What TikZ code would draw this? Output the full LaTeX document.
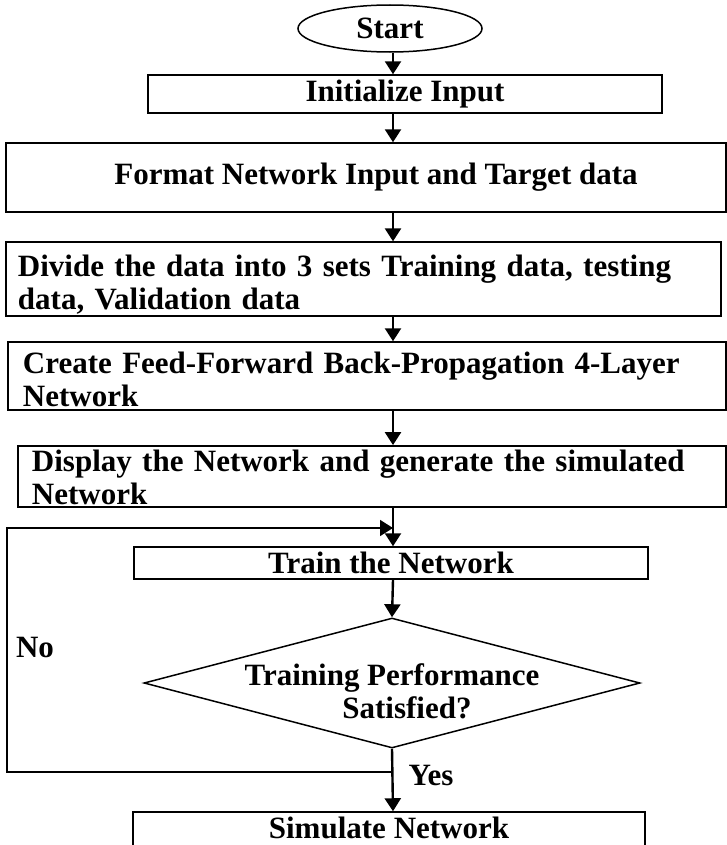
\documentclass[tikz,border=0pt]{standalone}
\usepackage{fontspec}
\setmainfont{Liberation Serif}
\usepackage{tikz}
\usetikzlibrary{arrows.meta,shapes.geometric}

\begin{document}
\begin{tikzpicture}[x=1bp,y=1bp,font=\fontsize{31bp}{33bp}\selectfont\bfseries]
				\useasboundingbox (0,0) rectangle (727,-845);
				\begin{scope}[every node/.style={draw,line width=1.5bp,inner sep=2bp}]
				    \node[ellipse,minimum width=184bp,minimum height=47bp] (start) at (390,-28.5) {Start};
				    \node[minimum width=514bp,minimum height=38bp] (init) at (405,-94) {Initialize Input};
				    \node[minimum width=720bp,minimum height=69bp] (format) at (366,-177.5) {\hspace{20bp}Format Network Input and Target data};
				    \node[text width=691bp,inner xsep=12bp,align=left,minimum height=68bp,text height=32bp] (divide) at (363.5,-279) {Divide the data into 3 sets Training data, testing\\data, Validation data};
				    \node[text width=688bp,inner xsep=15bp,align=left,minimum height=68bp,text height=28bp] (create) at (367,-376) {Create Feed-Forward Back-Propagation 4-Layer\\Network};
				    \node[text width=680bp,inner xsep=14bp,align=left,minimum height=61bp,text height=24bp] (display) at (372,-476.5) {Display the Network and generate the simulated\\Network};
				    \node[minimum width=514bp,minimum height=32bp] (train) at (391,-563) {Train the Network};
				    \node[diamond,aspect=3.8,minimum width=496bp,minimum height=130bp,inner sep=0bp] (check) at (392,-683) {};
				    \node[minimum width=512bp,minimum height=36bp] (simulate) at (389,-830) {\raisebox{5bp}{Simulate Network}};
				\end{scope}

				\node[align=center] (check text) at ([yshift=-8bp]check.center) {Training Performance\\\hspace{30bp}Satisfied?};
				\coordinate (axis) at (393,0);
				\coordinate (merge) at (393,-528);
				\coordinate (yes) at (393,-772);
				\node (no label) at (35,-647) {No};
				\node (yes label) at (431,-775) {Yes};

				\begin{scope}[>={Triangle[length=13bp,width=16bp]},
				              every edge/.style={draw=black,line width=2.4bp}]
				    \path [->] (start.south -| axis) edge (init.north -| axis);
				    \path [->] (init.south -| axis) edge (format.north -| axis);
				    \path [->] (format.south -| axis) edge (divide.north -| axis);
				    \path [->] (divide.south -| axis) edge (create.north -| axis);
				    \path [->] (create.south -| axis) edge (display.north -| axis);
				    \path [->] (display.south -| axis) edge (train.north -| axis);
				    \path [->] (train.south -| axis) edge (check.north);
				    \path [->] (check.south) edge (simulate.north -| axis);
				    \draw [->,line width=1.6bp] (yes) -- ++(-386,0) |- (merge);
				\end{scope}
\end{tikzpicture}
\end{document}
